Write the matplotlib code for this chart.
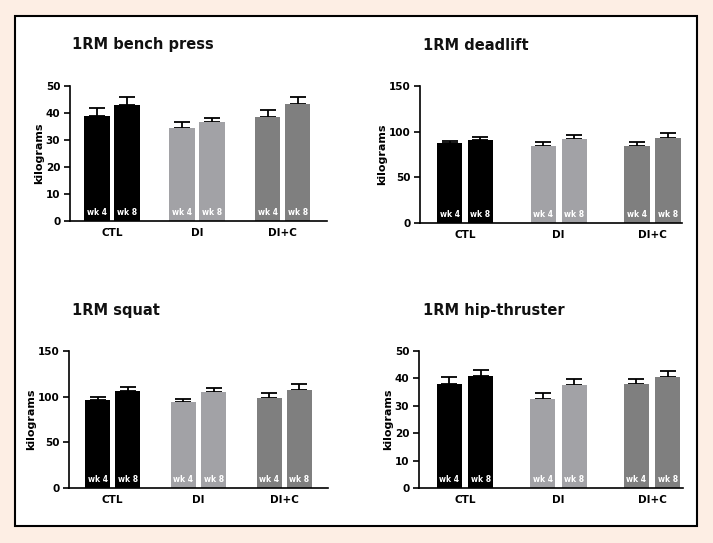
import numpy as np
import matplotlib
matplotlib.use('Agg')
import matplotlib.pyplot as plt
from matplotlib.patches import Rectangle

groups = ['CTL', 'DI', 'DI+C']
weeks = ['wk 4', 'wk 8']
colors = ['#000000', '#a2a2a6', '#7f7f7f']

bench_mean = [[38.8, 42.8], [34.4, 36.6], [38.4, 43.2]]
bench_sem = [[3.0, 3.1], [2.1, 1.7], [2.8, 2.7]]
dead_mean = [[87.7, 91.0], [84.5, 92.1], [84.5, 93.6]]
dead_sem = [[1.9, 2.9], [4.0, 4.0], [4.0, 4.7]]
squat_mean = [[96.3, 106.1], [94.1, 105.0], [98.4, 107.2]]
squat_sem = [[2.9, 4.0], [2.9, 4.0], [5.1, 6.2]]
hip_mean = [[37.9, 40.7], [32.4, 37.5], [37.9, 40.4]]
hip_sem = [[2.7, 2.2], [2.3, 2.1], [1.7, 2.2]]

titles = ['1RM bench press', '1RM deadlift', '1RM squat', '1RM hip-thruster']
ymaxes = [50, 150, 150, 50]
ysteps = [10, 50, 50, 10]

W, H = 713, 543
fig = plt.figure(figsize=(W / 100, H / 100), dpi=100)
fig.patch.set_facecolor('#fdeee4')
fig.patches.append(Rectangle((15 / W, 1 - 526 / H), 682 / W, 510 / H,
                             transform=fig.transFigure, facecolor='white',
                             edgecolor='black', linewidth=1.5, zorder=-5))

# axes boxes in pixels: left, right, bottom(y), top(y), xlim left pad, right pad, bar width, offset
panels = [
    (70, 327, 221, 86, 0.49, 0.52, 0.30, 0.176),
    (420, 682, 223, 86, 0.48, 0.315, 0.27, 0.165),
    (69, 328, 488, 351, 0.51, 0.51, 0.29, 0.176),
    (419, 683, 488, 351, 0.49, 0.33, 0.27, 0.168),
]
title_pos = [(72, 45), (423, 45), (72, 310), (423, 310)]
means = [bench_mean, dead_mean, squat_mean, hip_mean]
sems = [bench_sem, dead_sem, squat_sem, hip_sem]

for i in range(4):
    l, r, b, t, lp, rp, bw, off = panels[i]
    ax = fig.add_axes([l / W, 1 - b / H, (r - l) / W, (b - t) / H])
    ax.set_facecolor('none')
    x = np.arange(len(groups))
    for g in range(len(groups)):
        for k in range(2):
            xp = x[g] + (k - 0.5) * 2 * off
            ax.bar(xp, means[i][g][k], width=bw, color=colors[g], zorder=2)
            ax.errorbar(xp, means[i][g][k], yerr=[[0], [sems[i][g][k]]],
                        fmt='none', ecolor='black', elinewidth=1.3,
                        capsize=6, capthick=1.3, zorder=1)
            ax.annotate(weeks[k], (xp, 0), xytext=(0, 3), textcoords='offset points',
                        ha='center', va='bottom', color='white', fontsize=5.5,
                        fontweight='bold', zorder=3)
    ax.set_xlim(-lp, 2 + rp)
    ax.set_ylim(0, ymaxes[i])
    ax.set_yticks(np.arange(0, ymaxes[i] + 1, ysteps[i]))
    ax.set_xticks(x)
    ax.set_xticklabels(groups, fontsize=7.5, fontweight='bold')
    ax.tick_params(axis='x', length=0, pad=5)
    ax.tick_params(axis='y', length=4, width=1.2, labelsize=7.5, pad=3)
    for lab in ax.get_yticklabels():
        lab.set_fontweight('bold')
    ax.spines['top'].set_visible(False)
    ax.spines['right'].set_visible(False)
    ax.spines['left'].set_linewidth(1.2)
    ax.spines['bottom'].set_linewidth(1.2)
    ax.set_ylabel('kilograms', fontsize=8, fontweight='bold', labelpad=1)
    tx, ty = title_pos[i]
    fig.text(tx / W, 1 - ty / H, titles[i], fontsize=10.5, fontweight='bold',
             ha='left', va='center', color='#111111')

fig.savefig('out.png', dpi=100, facecolor=fig.get_facecolor())
